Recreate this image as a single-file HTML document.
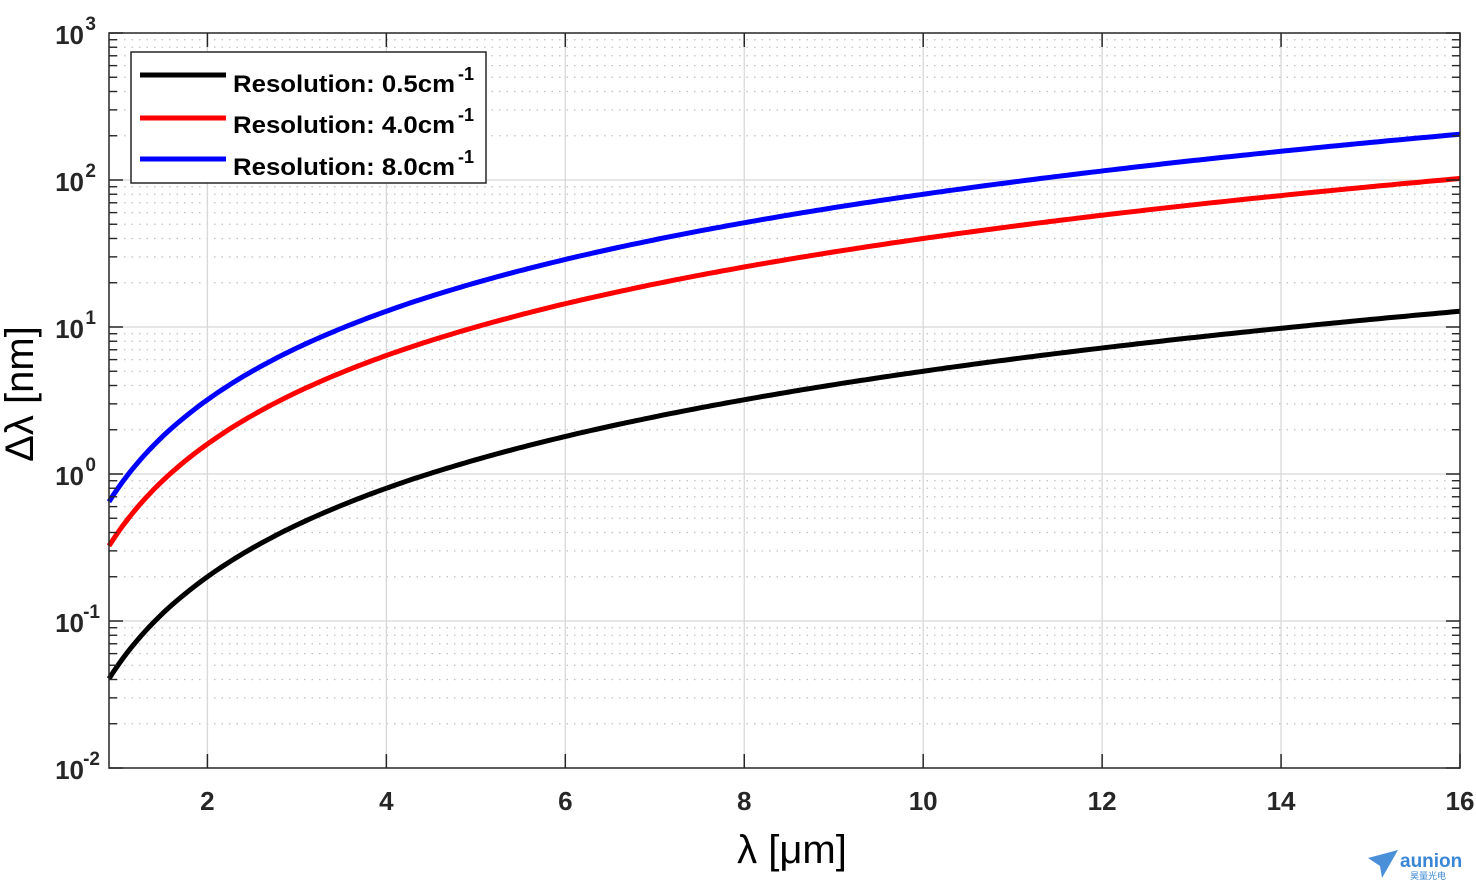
<!DOCTYPE html>
<html><head><meta charset="utf-8"><style>
body{margin:0;background:#fff;width:1476px;height:890px;overflow:hidden}
svg{display:block;font-family:"Liberation Sans",Arial,sans-serif}
</style></head><body>
<svg id="s" width="1476" height="890" xmlns="http://www.w3.org/2000/svg">
<g id="grid"></g>
<g id="curves"></g>
<rect x="109" y="33" width="1351" height="735" fill="none" stroke="#262626" stroke-width="1.5"/>
<g id="ticks"></g>
<g font-weight="bold" font-size="26" fill="#262626" text-anchor="middle" id="xl"></g>
<g font-weight="bold" font-size="26" fill="#262626" text-anchor="end" id="yl"></g>
<text x="792" y="863" font-size="40" text-anchor="middle" fill="#000">λ [μm]</text>
<text transform="translate(33,394) rotate(-90)" font-size="40" text-anchor="middle" fill="#000">Δλ [nm]</text>
<rect x="131" y="52" width="355" height="131" fill="#fff" stroke="#262626" stroke-width="1.5"/>
<g stroke-width="5">
<line x1="140" y1="75" x2="226" y2="75" stroke="#000"/>
<line x1="140" y1="118" x2="226" y2="118" stroke="#f00"/>
<line x1="140" y1="159" x2="226" y2="159" stroke="#00f"/>
</g>
<g font-weight="bold" font-size="24" fill="#000">
<text x="233" y="92" textLength="222" lengthAdjust="spacingAndGlyphs">Resolution: 0.5cm</text><text x="458" y="80" font-size="18">-1</text>
<text x="233" y="133" textLength="222" lengthAdjust="spacingAndGlyphs">Resolution: 4.0cm</text><text x="458" y="121" font-size="18">-1</text>
<text x="233" y="175" textLength="222" lengthAdjust="spacingAndGlyphs">Resolution: 8.0cm</text><text x="458" y="163" font-size="18">-1</text>
</g>
<g transform="translate(1368,850)">
<path d="M0,8 L30,0 L14,28 L12,16 Z" fill="#4a90d9"/>
<text x="32" y="17" font-size="19" font-weight="bold" fill="#3a86d6">aunion</text>
<text x="42" y="29" font-size="9" fill="#3a86d6" font-family="Noto Sans CJK SC,sans-serif">昊量光电</text>
</g>
</svg>
<script>
const NS="http://www.w3.org/2000/svg";
const X=x=>109+(x-0.9)*1351/15.1, Y=v=>474-147*Math.log10(v);
function el(p,t,a,txt){const e=document.createElementNS(NS,t);for(const k in a)e.setAttribute(k,a[k]);if(txt!==undefined)e.textContent=txt;document.getElementById(p).appendChild(e);return e;}
for(let d=-2;d<3;d++)for(let m=2;m<10;m++){const y=Y(m*Math.pow(10,d));
el("grid","line",{x1:109,x2:1460,y1:y,y2:y,stroke:"#c0c0c0","stroke-dasharray":"1.5 6","stroke-width":1.3});
el("ticks","line",{x1:109,x2:117,y1:y,y2:y,stroke:"#262626","stroke-width":1.4});
el("ticks","line",{x1:1452,x2:1460,y1:y,y2:y,stroke:"#262626","stroke-width":1.4});}
for(let d=-2;d<=3;d++){const y=Y(Math.pow(10,d));
if(d>-2&&d<3)el("grid","line",{x1:109,x2:1460,y1:y,y2:y,stroke:"#d8d8d8","stroke-width":1.3});
el("ticks","line",{x1:109,x2:123,y1:y,y2:y,stroke:"#262626","stroke-width":1.5});
el("ticks","line",{x1:1446,x2:1460,y1:y,y2:y,stroke:"#262626","stroke-width":1.5});
const t=el("yl","text",{x:84,y:y+11},"10");el("yl","text",{x:(d<0?100:96),y:y-3,"font-size":19},d);}
for(let x=2;x<=16;x+=2){const px=X(x);
if(x<16)el("grid","line",{x1:px,x2:px,y1:33,y2:768,stroke:"#d8d8d8","stroke-width":1.3});
el("ticks","line",{x1:px,x2:px,y1:768,y2:754,stroke:"#262626","stroke-width":1.5});
el("ticks","line",{x1:px,x2:px,y1:33,y2:47,stroke:"#262626","stroke-width":1.5});
el("xl","text",{x:px,y:810},x);}
[[0.5,"#000"],[4,"#f00"],[8,"#00f"]].forEach(([r,c])=>{let p=[];for(let i=0;i<=300;i++){const x=0.9+15.1*i/300;p.push(X(x).toFixed(1)+","+Y(x*x*r*0.1).toFixed(1));}
el("curves","polyline",{points:p.join(" "),fill:"none",stroke:c,"stroke-width":5});});
</script>
</body></html>
